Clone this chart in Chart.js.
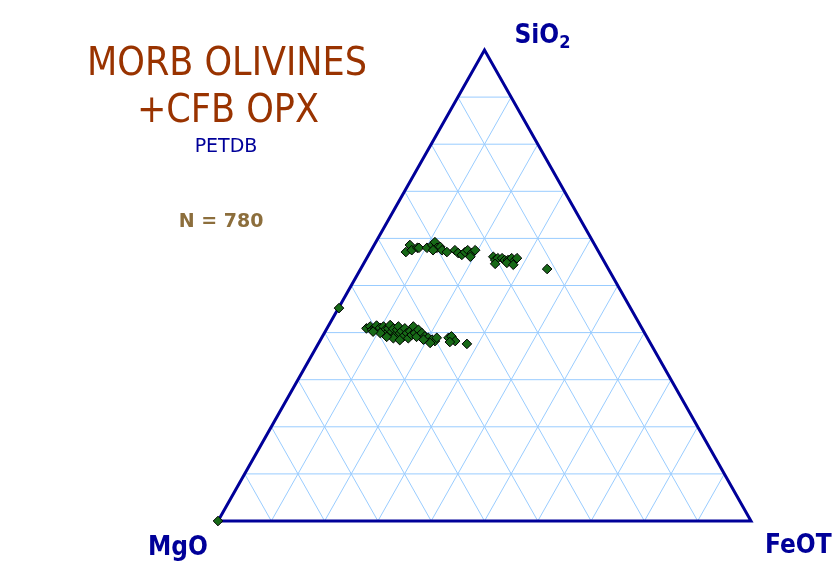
<!DOCTYPE html>
<html>
<head>
  <title>MORB Olivines + CFB OPX - SiO2-MgO-FeOT</title>
  <script src="https://cdn.jsdelivr.net/npm/chart.js"></script>
  <style>
    body { margin: 0; background: #fff; }
    #wrap { width: 840px; height: 577px; }
  </style>
</head>
<body>
<div id="wrap"><canvas id="chart" width="840" height="577"></canvas></div>
<script>
// compositions (wt%, normalised to the three oxides)
var sio2 = [57.1, 58.6, 57.5, 58.0, 58.0, 58.0, 58.6, 59.2, 58.0, 58.2, 57.5, 57.1, 57.5,
            57.5, 56.9, 56.5, 57.1, 57.5, 56.9, 57.5, 56.1,
            56.1, 55.4, 55.8, 55.8, 55.4, 55.4, 55.8, 55.0, 55.8, 54.8, 54.4, 54.6, 53.5,
            45.2, 0.0,
            40.9, 41.3, 40.6, 40.9, 41.5, 40.6, 41.0, 40.2, 41.3, 40.6, 39.9, 40.9, 41.6, 40.2,
            40.8, 39.5, 40.6, 41.3, 39.9, 40.3, 39.1, 40.9, 39.9, 38.8, 40.3, 39.5, 41.3, 39.9,
            39.1, 38.8, 38.4, 39.1, 39.9, 40.2, 40.6, 39.9, 39.2, 38.9, 38.5, 38.2, 37.8, 38.5,
            38.9, 39.2, 38.2, 38.0, 37.6, 38.9];
var mgo = [36.2, 34.7, 34.9, 33.6, 33.3, 31.8, 30.5, 29.7, 29.9, 29.2, 29.2, 28.5, 30.9,
           26.8, 26.5, 26.0, 25.1, 24.4, 23.9, 23.0, 24.6,
           20.3, 20.3, 19.6, 18.8, 18.5, 17.9, 17.0, 17.1, 16.0, 18.4, 17.4, 20.7, 11.5,
           54.7, 100.0,
           51.7, 50.8, 50.8, 50.1, 49.5, 49.6, 49.1, 49.2, 48.3, 48.3, 48.4, 47.6, 46.9, 47.3,
           46.7, 47.0, 46.1, 45.5, 45.9, 45.4, 45.7, 44.5, 44.6, 44.9, 43.8, 43.9, 42.7, 43.1,
           43.2, 47.7, 46.7, 48.8, 49.6, 50.8, 42.1, 41.8, 41.6, 41.1, 40.6, 40.2, 41.3, 42.2,
           37.3, 36.6, 36.4, 37.5, 34.5, 39.5];
var feot = [6.7, 6.7, 7.6, 8.4, 8.7, 10.2, 10.9, 11.1, 12.1, 12.6, 13.3, 14.4, 11.6,
            15.7, 16.6, 17.5, 17.8, 18.1, 19.2, 19.5, 19.3,
            23.6, 24.3, 24.6, 25.4, 26.1, 26.7, 27.2, 27.9, 28.2, 26.8, 28.2, 24.7, 35.0,
            0.1, 0.0,
            7.4, 7.9, 8.6, 9.0, 9.0, 9.8, 9.9, 10.6, 10.4, 11.1, 11.7, 11.5, 11.5, 12.5,
            12.5, 13.5, 13.3, 13.2, 14.2, 14.3, 15.2, 14.6, 15.5, 16.3, 15.9, 16.6, 16.0, 17.0,
            17.7, 13.5, 14.9, 12.1, 10.5, 9.0, 17.3, 18.3, 19.2, 20.0, 20.9, 21.6, 20.9, 19.3,
            23.8, 24.2, 25.4, 24.5, 27.9, 21.6];

var gridTicks = [10, 20, 30, 40, 50, 60, 70, 80, 90];

// ternary (SiO2 top, MgO left, FeOT right) -> cartesian 0..100
function tern(s, m, f) {
  var t = s + m + f;
  return { x: (f + s / 2) / t * 100, y: s / t * 100 };
}

var samples = [];
for (var i = 0; i < sio2.length; i++) {
  samples.push(tern(sio2[i], mgo[i], feot[i]));
}

var datasets = [];

datasets.push({
  label: 'samples',
  data: samples,
  pointStyle: 'rectRot',
  pointRadius: 4.8,
  backgroundColor: '#176917',
  borderColor: '#000000',
  borderWidth: 1,
  showLine: false,
  clip: false,
  order: 0
});

datasets.push({
  label: 'frame',
  data: [tern(0, 100, 0), tern(0, 0, 100), tern(100, 0, 0), tern(0, 100, 0)],
  showLine: true,
  borderColor: '#000099',
  borderWidth: 3,
  pointRadius: 0,
  clip: false,
  order: 1
});

// grid lines parallel to each side
gridTicks.forEach(function (v) {
  var segs = [
    [tern(v, 100 - v, 0), tern(v, 0, 100 - v)],   // constant SiO2
    [tern(0, 100 - v, v), tern(100 - v, 0, v)],   // constant FeOT
    [tern(0, v, 100 - v), tern(100 - v, v, 0)]    // constant MgO
  ];
  segs.forEach(function (seg) {
    datasets.push({
      label: 'grid',
      data: seg,
      showLine: true,
      borderColor: '#99ccff',
      borderWidth: 1,
      pointRadius: 0,
      order: 2
    });
  });
});

var labelPlugin = {
  id: 'labels',
  afterDraw: function (chart) {
    var ctx = chart.ctx;
    var a = chart.chartArea;
    var xs = chart.scales.x, ys = chart.scales.y;
    var apexX = xs.getPixelForValue(50);
    ctx.save();

    ctx.textAlign = 'center';
    ctx.fillStyle = '#993300';
    ctx.font = '39px "DejaVu Sans Condensed", "DejaVu Sans"';
    ctx.fillText('MORB OLIVINES', 227, 75);
    ctx.fillText('+CFB OPX', 228, 122);

    ctx.fillStyle = '#000099';
    ctx.font = '19px "DejaVu Sans"';
    ctx.fillText('PETDB', 226, 152);

    ctx.fillStyle = '#8c6e3c';
    ctx.font = 'bold 19px "DejaVu Sans"';
    ctx.fillText('N = 780', 221, 227);

    ctx.textAlign = 'left';
    ctx.fillStyle = '#000099';
    ctx.font = 'bold 26px "DejaVu Sans Condensed", "DejaVu Sans"';
    var sx = apexX + 30;
    ctx.fillText('SiO', sx, a.top - 7);
    var w = ctx.measureText('SiO').width;
    ctx.font = 'bold 18px "DejaVu Sans Condensed", "DejaVu Sans"';
    ctx.fillText('2', sx + w, a.top - 2);

    ctx.font = 'bold 26px "DejaVu Sans Condensed", "DejaVu Sans"';
    ctx.fillText('MgO', a.left - 70, ys.getPixelForValue(0) + 34);
    ctx.fillText('FeOT', a.right + 14, ys.getPixelForValue(0) + 32);
    ctx.restore();
  }
};

new Chart(document.getElementById('chart'), {
  type: 'scatter',
  data: { datasets: datasets },
  options: {
    responsive: false,
    animation: false,
    layout: { padding: { left: 218, right: 89, top: 50, bottom: 56 } },
    scales: {
      x: { type: 'linear', min: 0, max: 100, display: false },
      y: { type: 'linear', min: 0, max: 100, display: false }
    },
    plugins: {
      legend: { display: false },
      tooltip: { enabled: false }
    }
  },
  plugins: [labelPlugin]
});
</script>
</body>
</html>
